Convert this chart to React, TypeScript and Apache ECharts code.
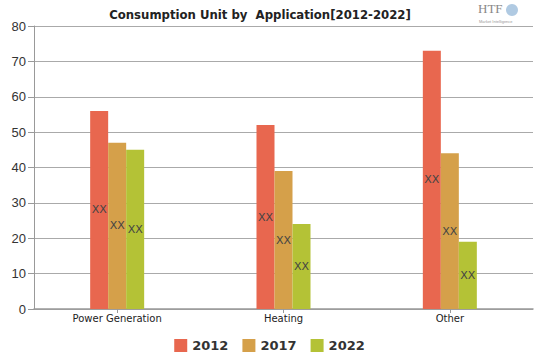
import React, { useEffect, useRef } from "react";
import * as echarts from "echarts";

const categories = ["Power Generation", "Heating", "Other"];
const seriesNames = ["2012", "2017", "2022"];
const values2012 = [56, 52, 73];
const values2017 = [47, 39, 44];
const values2022 = [45, 24, 19];
const colors = ["#E8674F", "#D5A04A", "#B4C236"];
const yTicks = { min: 0, max: 80, interval: 10 };

export default function App() {
  const ref = useRef<HTMLDivElement>(null);
  useEffect(() => {
    if (!ref.current) return;
    const chart = echarts.init(ref.current, null, { renderer: "svg" });
    const data = [values2012, values2017, values2022];
    chart.setOption({
      animation: false,
      title: {
        text: "Consumption Unit by  Application[2012-2022]",
        left: 255,
        top: 3,
        textAlign: "center",
        textStyle: {
          fontFamily: "DejaVu Sans Condensed",
          fontWeight: "bold",
          fontSize: 13,
          color: "#222",
        },
      },
      graphic: [
        {
          type: "text",
          left: 478,
          top: 2,
          style: { text: "HTF", fontSize: 13, fontFamily: "Liberation Serif", fill: "#888" },
        },
        {
          type: "circle",
          shape: { cx: 512, cy: 10, r: 6 },
          style: { fill: "#8fb3d6", opacity: 0.7 },
        },
        {
          type: "text",
          left: 479,
          top: 19,
          style: { text: "Market Intelligence", fontSize: 4, fill: "#999" },
        },
      ],
      legend: {
        data: seriesNames,
        bottom: 2,
        left: "center",
        itemWidth: 13,
        itemHeight: 13,
        itemGap: 14,
        icon: "rect",
        textStyle: {
          fontFamily: "DejaVu Sans",
          fontWeight: "bold",
          fontSize: 13,
          color: "#333",
        },
      },
      grid: { left: 34, right: 6, top: 26, bottom: 50, containLabel: false },
      xAxis: {
        type: "category",
        data: categories,
        axisLine: { lineStyle: { color: "#999", width: 1.5 } },
        axisTick: { show: true, alignWithLabel: true, length: 4, lineStyle: { color: "#999" } },
        axisLabel: { fontFamily: "DejaVu Sans", fontSize: 10, color: "#222", margin: 4, interval: 0 },
      },
      yAxis: {
        type: "value",
        min: yTicks.min,
        max: yTicks.max,
        interval: yTicks.interval,
        axisLine: { show: true, lineStyle: { color: "#999" } },
        axisTick: { show: true, length: 6, lineStyle: { color: "#999" } },
        axisLabel: { fontFamily: "Liberation Sans", fontSize: 13, color: "#333", margin: 8 },
        splitLine: { lineStyle: { color: "#aaa" } },
      },
      series: seriesNames.map((name, i) => ({
        name,
        type: "bar",
        data: data[i],
        barWidth: 18,
        barGap: "0%",
        itemStyle: { color: colors[i] },
        label: {
          show: true,
          position: "inside",
          formatter: "XX",
          color: "#444",
          fontSize: 11,
          fontFamily: "DejaVu Sans",
        },
      })),
    });
    return () => chart.dispose();
  }, []);
  return <div ref={ref} style={{ width: 539, height: 359, position: "absolute", left: 0, top: 0 }} />;
}
